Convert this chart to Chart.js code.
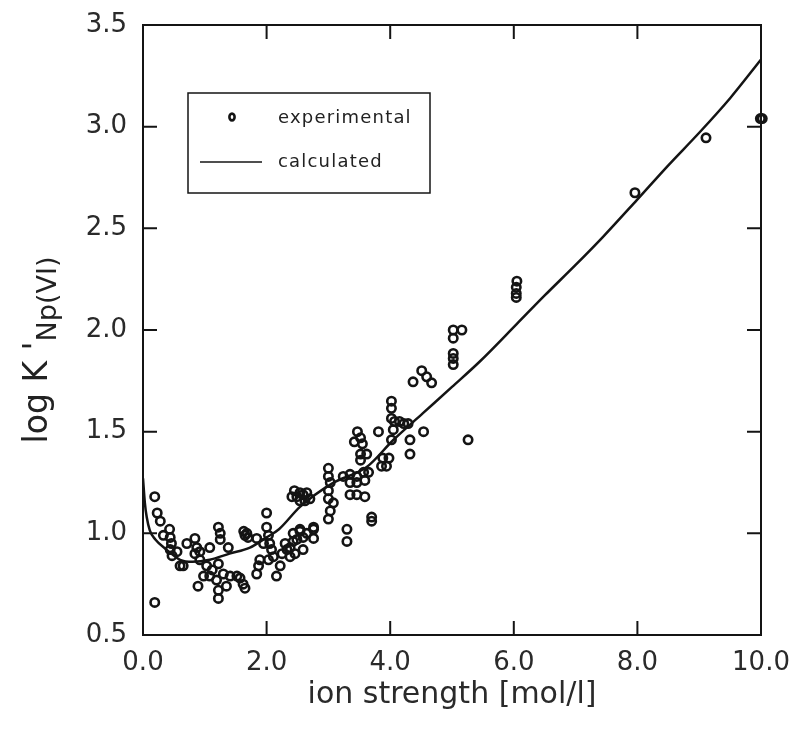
<!DOCTYPE html>
<html>
<head>
<meta charset="utf-8">
<script src="https://cdn.jsdelivr.net/npm/chart.js@4/dist/chart.umd.min.js"></script>
<style>
  html, body { margin: 0; padding: 0; background: #fff; }
  #wrap { width: 797px; height: 741px; position: relative; }
</style>
</head>
<body>
<div id="wrap"><canvas id="c" width="797" height="741"></canvas></div>
<script>
// ---- data ----
const ionStrength = [
  0.19,0.19,0.23,0.28,0.43,0.33,0.44,0.46,0.44,0.55,0.60,0.65,0.71,0.84,0.87,0.92,0.84,1.08,0.92,1.03,
  0.98,0.89,1.08,1.22,1.25,1.25,1.22,1.30,1.19,1.22,1.22,1.35,1.38,1.41,1.52,1.57,1.62,1.65,1.63,1.65,
  1.68,1.84,1.87,1.84,1.89,2.00,2.00,2.03,2.05,2.08,2.03,2.11,2.16,2.22,2.33,2.38,2.43,2.54,2.49,2.65,
  2.76,2.49,2.54,2.59,2.65,2.70,2.54,2.41,2.76,2.76,2.54,2.59,2.43,2.59,2.46,2.38,
  5.02,5.02,5.02,4.51,4.37,4.59,4.67,4.02,4.02,4.02,4.07,4.15,4.22,4.29,4.05,3.81,4.02,4.32,4.54,4.32,
  5.26,3.47,3.52,3.42,3.55,3.52,3.62,3.52,3.88,3.98,3.86,3.94,3.00,3.00,3.03,3.24,3.35,3.46,3.57,3.65,
  3.35,3.46,3.59,3.35,3.46,3.59,3.00,3.00,3.08,3.03,3.00,3.30,3.30,3.70,3.70,
  6.05,6.04,6.04,6.04,5.02,5.16,5.02,7.96,9.11,9.99,10.02,
  0.47,1.12,1.70,1.95,2.62,2.45,2.30,2.25
];
const logKExperimental = [
  1.18,0.66,1.10,1.06,1.02,0.99,0.98,0.95,0.92,0.91,0.84,0.84,0.95,0.975,0.93,0.91,0.90,0.93,0.87,0.84,
  0.79,0.74,0.79,1.03,1.00,0.97,0.85,0.80,0.77,0.72,0.68,0.74,0.93,0.79,0.79,0.78,0.75,0.73,1.01,0.99,
  1.00,0.975,0.84,0.80,0.87,1.10,1.03,0.99,0.95,0.92,0.87,0.885,0.79,0.84,0.92,0.93,1.00,1.02,0.97,1.00,
  1.02,1.18,1.20,1.19,1.20,1.17,1.16,1.18,1.03,0.975,1.01,0.98,0.96,0.92,0.90,0.885,
  1.885,1.86,1.83,1.80,1.745,1.77,1.74,1.65,1.615,1.565,1.55,1.55,1.54,1.54,1.51,1.50,1.46,1.46,1.50,1.39,
  1.46,1.50,1.47,1.45,1.44,1.39,1.39,1.36,1.37,1.37,1.33,1.33,1.32,1.28,1.25,1.28,1.29,1.28,1.30,1.30,
  1.25,1.25,1.26,1.19,1.19,1.18,1.21,1.17,1.15,1.11,1.07,1.02,0.96,1.08,1.06,
  2.24,2.21,2.18,2.16,2.00,2.00,1.96,2.675,2.945,3.04,3.04,
  0.89,0.82,0.98,0.95,1.16,1.21,0.95,0.90
];
const calcIonStrength = [0,0.03,0.06,0.11,0.2,0.38,0.6,0.8,1.08,1.4,1.73,2.0,2.2,2.54,3.07,3.62,4.05,4.53,5.0,5.45,6.05,6.5,7.0,7.44,7.99,8.5,9.0,9.5,10.0];
const calcLogK        = [1.27,1.15,1.08,1.015,0.97,0.92,0.87,0.86,0.87,0.90,0.93,0.98,1.02,1.13,1.247,1.326,1.459,1.591,1.72,1.845,2.03,2.17,2.32,2.457,2.639,2.81,2.97,3.14,3.33];
const xTickValues = [0, 2, 4, 6, 8, 10];
const yTickValues = [0.5, 1.0, 1.5, 2.0, 2.5, 3.0, 3.5];
const legendLabels = ['experimental', 'calculated'];
const xTitle = 'ion strength [mol/l]';
const yTitleMain = "log K '";
const yTitleSub = 'Np(VI)';

const expPoints = ionStrength.map((x, i) => ({ x, y: logKExperimental[i] }));
const calcPoints = calcIonStrength.map((x, i) => ({ x, y: calcLogK[i] }));

const INK = '#141414';
const FONT = '"DejaVu Sans", "Liberation Sans", sans-serif';

const framePlugin = {
  id: 'frame',
  afterDraw(chart) {
    const { ctx, chartArea: a, scales } = chart;
    const xs = scales.x, ys = scales.y;
    ctx.save();
    ctx.strokeStyle = INK;
    ctx.lineWidth = 2;
    ctx.strokeRect(a.left, a.top, a.right - a.left, a.bottom - a.top);
    const L = 14;
    ctx.beginPath();
    xTickValues.forEach(v => {
      const px = xs.getPixelForValue(v);
      ctx.moveTo(px, a.bottom); ctx.lineTo(px, a.bottom - L);
      ctx.moveTo(px, a.top); ctx.lineTo(px, a.top + L);
    });
    yTickValues.forEach(v => {
      const py = ys.getPixelForValue(v);
      ctx.moveTo(a.left, py); ctx.lineTo(a.left + L, py);
      ctx.moveTo(a.right, py); ctx.lineTo(a.right - L, py);
    });
    ctx.stroke();

    // y-axis title (rotated, with subscript)
    ctx.fillStyle = '#222';
    ctx.translate(47, 350);
    ctx.rotate(-Math.PI / 2);
    ctx.textBaseline = 'alphabetic';
    ctx.textAlign = 'left';
    ctx.font = '33px ' + FONT;
    const mainW = ctx.measureText(yTitleMain).width;
    ctx.font = '27px ' + FONT;
    const subW = ctx.measureText(yTitleSub).width;
    const start = -(mainW + subW) / 2;
    ctx.font = '33px ' + FONT;
    ctx.fillText(yTitleMain, start, 0);
    ctx.font = '27px ' + FONT;
    ctx.fillText(yTitleSub, start + mainW, 9);
    ctx.restore();

    // legend box
    ctx.save();
    ctx.strokeStyle = INK;
    ctx.fillStyle = INK;
    ctx.lineWidth = 1.5;
    ctx.strokeRect(188, 93, 242, 100);
    ctx.lineWidth = 2.6;
    ctx.beginPath();
    ctx.ellipse(232, 117, 2.6, 3.4, 0, 0, Math.PI * 2);
    ctx.stroke();
    ctx.lineWidth = 1.5;
    ctx.beginPath();
    ctx.moveTo(200, 162); ctx.lineTo(262, 162);
    ctx.stroke();
    ctx.font = '18px ' + FONT;
    ctx.textBaseline = 'middle';
    if ('letterSpacing' in ctx) ctx.letterSpacing = '1.2px';
    ctx.fillStyle = '#222';
    ctx.fillText(legendLabels[0], 278, 118);
    ctx.fillText(legendLabels[1], 278, 162);
    ctx.restore();
  }
};

new Chart(document.getElementById('c'), {
  type: 'scatter',
  data: {
    datasets: [
      {
        label: legendLabels[0],
        data: expPoints,
        showLine: false,
        pointStyle: 'circle',
        pointRadius: 4.2,
        pointBorderWidth: 2.6,
        pointBorderColor: INK,
        pointBackgroundColor: 'rgba(255,255,255,0)',
        clip: false
      },
      {
        label: legendLabels[1],
        data: calcPoints,
        showLine: true,
        borderColor: INK,
        borderWidth: 2.5,
        pointRadius: 0,
        cubicInterpolationMode: 'monotone',
        fill: false
      }
    ]
  },
  options: {
    responsive: false,
    animation: false,
    devicePixelRatio: 1,
    layout: { padding: { top: 25, right: 36, left: 0, bottom: 0 } },
    plugins: { legend: { display: false }, tooltip: { enabled: false } },
    scales: {
      x: {
        type: 'linear', min: 0, max: 10,
        afterFit(scale) {
          scale.height = 106;
          scale.paddingLeft = 0; scale.paddingRight = 0;
          scale.paddingTop = 0; scale.paddingBottom = 0;
        },
        afterBuildTicks(scale) { scale.ticks = xTickValues.map(v => ({ value: v })); },
        grid: { display: false, drawTicks: false },
        border: { display: false },
        ticks: {
          padding: 13,
          color: '#2a2a2a',
          font: { family: FONT, size: 26 },
          callback: v => Number(v).toFixed(1),
          maxRotation: 0
        },
        title: {
          display: true, text: xTitle, color: '#2a2a2a',
          font: { family: FONT, size: 30 },
          padding: { top: 0, bottom: 28 }
        }
      },
      y: {
        type: 'linear', min: 0.5, max: 3.5,
        afterFit(scale) {
          scale.width = 143;
          scale.paddingLeft = 0; scale.paddingRight = 0;
          scale.paddingTop = 0; scale.paddingBottom = 0;
        },
        afterBuildTicks(scale) { scale.ticks = yTickValues.map(v => ({ value: v })); },
        grid: { display: false, drawTicks: false },
        border: { display: false },
        ticks: {
          padding: 16,
          color: '#2a2a2a',
          font: { family: FONT, size: 26 },
          callback: v => Number(v).toFixed(1)
        }
      }
    }
  },
  plugins: [framePlugin]
});
</script>
</body>
</html>
